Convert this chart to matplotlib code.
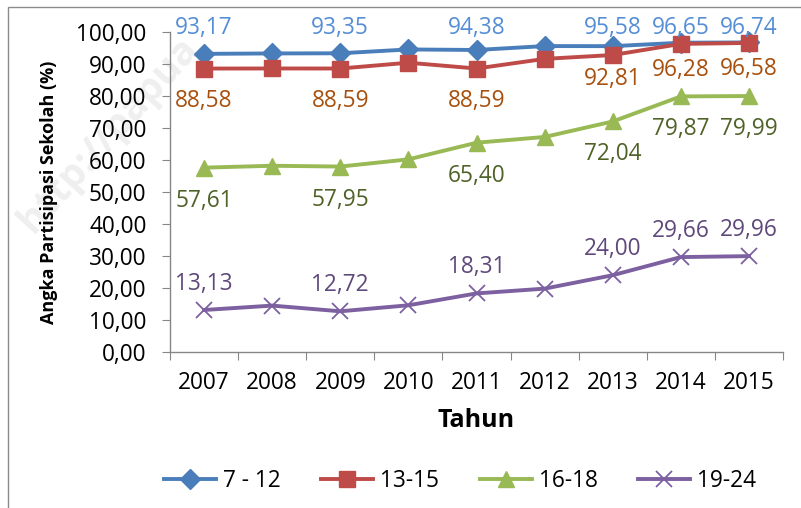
import matplotlib
matplotlib.use("Agg")
import matplotlib.pyplot as plt
from matplotlib.patches import Rectangle

# data
years = ["2007", "2008", "2009", "2010", "2011", "2012", "2013", "2014", "2015"]
series_names = ["7 - 12", "13-15", "16-18", "19-24"]
apk_7_12 = [93.17, 93.30, 93.35, 94.55, 94.38, 95.60, 95.58, 96.65, 96.74]
apk_13_15 = [88.58, 88.60, 88.59, 90.40, 88.59, 91.60, 92.81, 96.28, 96.58]
apk_16_18 = [57.61, 58.20, 57.95, 60.20, 65.40, 67.20, 72.04, 79.87, 79.99]
apk_19_24 = [13.13, 14.50, 12.72, 14.60, 18.31, 19.80, 24.00, 29.66, 29.96]
labelled = [0, 2, 4, 6, 7, 8]  # points that carry a data label
y_ticks = [0, 10, 20, 30, 40, 50, 60, 70, 80, 90, 100]

FONT = ["Open Sans", "DejaVu Sans"]
plt.rcParams["font.family"] = FONT
FS = 16.3

W, H = 801, 508
fig = plt.figure(figsize=(W / 100, H / 100), dpi=100)
ax = fig.add_axes([170 / W, 1 - 352 / H, (783 - 170) / W, (352 - 32) / H])
ax.set_zorder(2)
ax.patch.set_alpha(0)

# outer chart frame and faint watermark
fig.patches.append(Rectangle((8 / W, -0.2), 1.2, 1 - 7 / H + 0.2,
                             transform=fig.transFigure, fill=False,
                             edgecolor="#8c8c8c", lw=1.0, zorder=0))
fig.text(40 / W, 1 - 240 / H, "http://papua", rotation=48,
         fontsize=28, fontweight="bold", color="#efefef", zorder=0,
         ha="left", va="bottom", rotation_mode="anchor")

x = list(range(len(years)))
styles = [
    dict(color="#4a7ebb", marker="D", ms=10, mfc="#4a7ebb", mec="#4a7ebb"),
    dict(color="#be4b48", marker="s", ms=12, mfc="#be4b48", mec="#be4b48"),
    dict(color="#98b954", marker="^", ms=12, mfc="#98b954", mec="#98b954"),
    dict(color="#7d60a0", marker="x", ms=11, mew=1.3, mfc="#7d60a0", mec="#7d60a0"),
]
label_colors = ["#558ed5", "#a8500e", "#4f6228", "#5f497a"]
all_series = [apk_7_12, apk_13_15, apk_16_18, apk_19_24]

for vals, name, st in zip(all_series, series_names, styles):
    ax.plot(x, vals, lw=2.8, label=name, zorder=3, clip_on=False, **st)


def fmt(v):
    return f"{v:.2f}".replace(".", ",")


# data labels (pixel offsets, 3.2 px per unit)
px = 3.2
red_off = {0: 32, 2: 32, 4: 32, 6: 24, 7: 26, 8: 26}
for i in labelled:
    ax.text(i, min(apk_7_12[i] + 26 / px, 101.3), fmt(apk_7_12[i]),
            ha="center", va="center", fontsize=FS, color=label_colors[0])
    ax.text(i, apk_13_15[i] - red_off[i] / px, fmt(apk_13_15[i]),
            ha="center", va="center", fontsize=FS, color=label_colors[1])
    ax.text(i, apk_16_18[i] - 33 / px, fmt(apk_16_18[i]),
            ha="center", va="center", fontsize=FS, color=label_colors[2])
    ax.text(i, apk_19_24[i] + 26 / px, fmt(apk_19_24[i]),
            ha="center", va="center", fontsize=FS, color=label_colors[3])

ax.set_ylim(0, 100)
ax.set_xlim(-0.5, len(years) - 0.5)
ax.set_yticks(y_ticks)
ax.set_yticklabels([fmt(v) for v in y_ticks], fontsize=FS)
ax.set_xticks([i - 0.5 for i in range(len(years) + 1)])
ax.set_xticklabels([])
ax.set_xticks(x, minor=True)
ax.set_xticklabels(years, minor=True, fontsize=FS)
ax.tick_params(axis="x", which="major", length=6, color="#868686")
ax.tick_params(axis="x", which="minor", length=0, pad=14)
ax.tick_params(axis="y", length=6, color="#868686", pad=11)
for s in ["top", "right"]:
    ax.spines[s].set_visible(False)
for s in ["left", "bottom"]:
    ax.spines[s].set_color("#868686")
    ax.spines[s].set_linewidth(1.0)

ax.set_ylabel("Angka Partisipasi Sekolah (%)", fontsize=13, fontweight="bold",
              labelpad=13)
ax.set_xlabel("Tahun", fontsize=18, fontweight="bold", labelpad=9)

fig.legend(loc="center", bbox_to_anchor=(460 / W, 1 - 481 / H), ncol=4,
           frameon=False, fontsize=FS, handlelength=2.3, columnspacing=1.8,
           handletextpad=0.3)

fig.savefig("out.png", dpi=100)
